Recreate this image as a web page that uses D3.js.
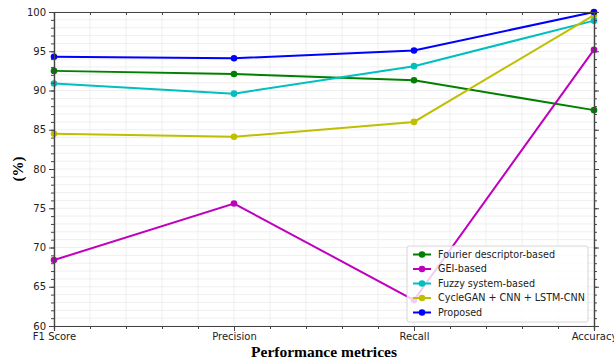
<!DOCTYPE html>
<html>
<head>
<meta charset="utf-8">
<script src="https://cdn.jsdelivr.net/npm/d3@7"></script>
<style>
  html, body { margin: 0; padding: 0; background: #fff; }
  svg { display: block; }
</style>
</head>
<body>
<svg id="chart" width="614" height="364"></svg>
<script>
// Metrics on the x axis
const categories = ["F1 Score", "Precision", "Recall", "Accuracy"];

// Score (%) per method, one value per metric
const fourierValues = [92.5, 92.1, 91.3, 87.5];
const geiValues = [68.4, 75.6, 63.3, 95.2];
const fuzzyValues = [90.9, 89.6, 93.1, 98.9];
const cycleganValues = [84.5, 84.1, 86.0, 99.6];
const proposedValues = [94.3, 94.1, 95.1, 100.0];

const seriesNames = ["Fourier descriptor-based", "GEI-based", "Fuzzy system-based",
  "CycleGAN + CNN + LSTM-CNN", "Proposed"];
const seriesColors = ["#008000", "#bf00bf", "#00bfbf", "#bfbf00", "#0000ff"];

const yTicks = [60, 65, 70, 75, 80, 85, 90, 95, 100];

const series = [fourierValues, geiValues, fuzzyValues, cycleganValues, proposedValues]
  .map((values, i) => ({ name: seriesNames[i], color: seriesColors[i], values }));

const svg = d3.select("#chart");
const margin = { left: 54, right: 20, top: 12, bottom: 38 };
const W = 614, H = 364;
const x0 = margin.left, x1 = W - margin.right, y0 = H - margin.bottom, y1 = margin.top;

const x = d3.scalePoint().domain(categories).range([x0, x1]);
const xLin = d3.scaleLinear().domain([0, categories.length - 1]).range([x0, x1]);
const y = d3.scaleLinear().domain([60, 100]).range([y0, y1]);

// minor positions
const xMinor = d3.range(0, (categories.length - 1) * 5 + 1).map(i => i / 5);
const yMinor = d3.range(60, 101, 1);

// faint grid
const grid = svg.append("g");
grid.selectAll("line.gx").data(xMinor).join("line")
  .attr("x1", d => xLin(d)).attr("x2", d => xLin(d))
  .attr("y1", y1).attr("y2", y0)
  .attr("stroke", "#ebebeb").attr("stroke-width", 0.8);
grid.selectAll("line.gy").data(yMinor).join("line")
  .attr("x1", x0).attr("x2", x1)
  .attr("y1", d => y(d)).attr("y2", d => y(d))
  .attr("stroke", "#ebebeb").attr("stroke-width", 0.8);

// lines and markers
const line = d3.line().x((d, i) => x(categories[i])).y(d => y(d));
const plot = svg.append("g");
series.forEach(s => {
  plot.append("path").datum(s.values)
    .attr("d", line).attr("fill", "none")
    .attr("stroke", s.color).attr("stroke-width", 2);
  plot.selectAll(null).data(s.values).join("circle")
    .attr("cx", (d, i) => x(categories[i])).attr("cy", d => y(d))
    .attr("r", 3.3).attr("fill", s.color);
});

// axes
const axisColor = "#444";
const font = "DejaVu Sans, sans-serif";

const axBottom = svg.append("g").attr("transform", `translate(0,${y0})`)
  .call(d3.axisBottom(x).tickSize(5).tickPadding(2));
const axBottomMinor = svg.append("g").attr("transform", `translate(0,${y0})`)
  .call(d3.axisBottom(xLin).tickValues(xMinor).tickSize(3).tickFormat(""));
const axLeft = svg.append("g").attr("transform", `translate(${x0},0)`)
  .call(d3.axisLeft(y).tickValues(yTicks).tickSize(5).tickPadding(3));
const axLeftMinor = svg.append("g").attr("transform", `translate(${x0},0)`)
  .call(d3.axisLeft(y).tickValues(yMinor).tickSize(3).tickFormat(""));
const axTop = svg.append("g").attr("transform", `translate(0,${y1})`)
  .call(d3.axisBottom(xLin).tickValues(xMinor).tickSize(3).tickFormat(""));
const axRight = svg.append("g").attr("transform", `translate(${x1},0)`)
  .call(d3.axisRight(y).tickValues(yTicks).tickSize(5).tickFormat(""));
const axRightMinor = svg.append("g").attr("transform", `translate(${x1},0)`)
  .call(d3.axisRight(y).tickValues(yMinor).tickSize(3).tickFormat(""));

[axBottom, axBottomMinor, axLeft, axLeftMinor, axTop, axRight, axRightMinor].forEach(g => {
  g.select(".domain").attr("stroke", axisColor).attr("stroke-width", 1.2);
  g.selectAll(".tick line").attr("stroke", axisColor);
  g.selectAll("text").attr("font-family", font).attr("font-size", 10).attr("fill", "#222");
});

// axis titles
svg.append("text")
  .attr("x", (x0 + x1) / 2).attr("y", 357)
  .attr("text-anchor", "middle")
  .attr("font-family", "Liberation Serif, Times New Roman, serif")
  .attr("font-weight", "bold").attr("font-size", 15.5)
  .text("Performance metrices");
svg.append("text")
  .attr("transform", `translate(23,${(y0 + y1) / 2}) rotate(-90)`)
  .attr("text-anchor", "middle")
  .attr("font-family", "Liberation Serif, Times New Roman, serif")
  .attr("font-weight", "bold").attr("font-size", 15)
  .text("(%)");

// legend
const lg = svg.append("g").attr("transform", "translate(407,246)");
lg.append("rect").attr("width", 181).attr("height", 76).attr("rx", 2)
  .attr("fill", "#fff").attr("fill-opacity", 0.8)
  .attr("stroke", "#ccc").attr("stroke-width", 0.8);
series.forEach((s, i) => {
  const row = lg.append("g").attr("transform", `translate(0,${8.5 + i * 14.5})`);
  row.append("line").attr("x1", 6).attr("x2", 24)
    .attr("stroke", s.color).attr("stroke-width", 2);
  row.append("circle").attr("cx", 15).attr("r", 3.3).attr("fill", s.color);
  row.append("text").attr("x", 31).attr("y", 0).attr("dy", "0.35em")
    .attr("font-family", font).attr("font-size", 9.6).attr("fill", "#222")
    .text(s.name);
});
</script>
</body>
</html>
